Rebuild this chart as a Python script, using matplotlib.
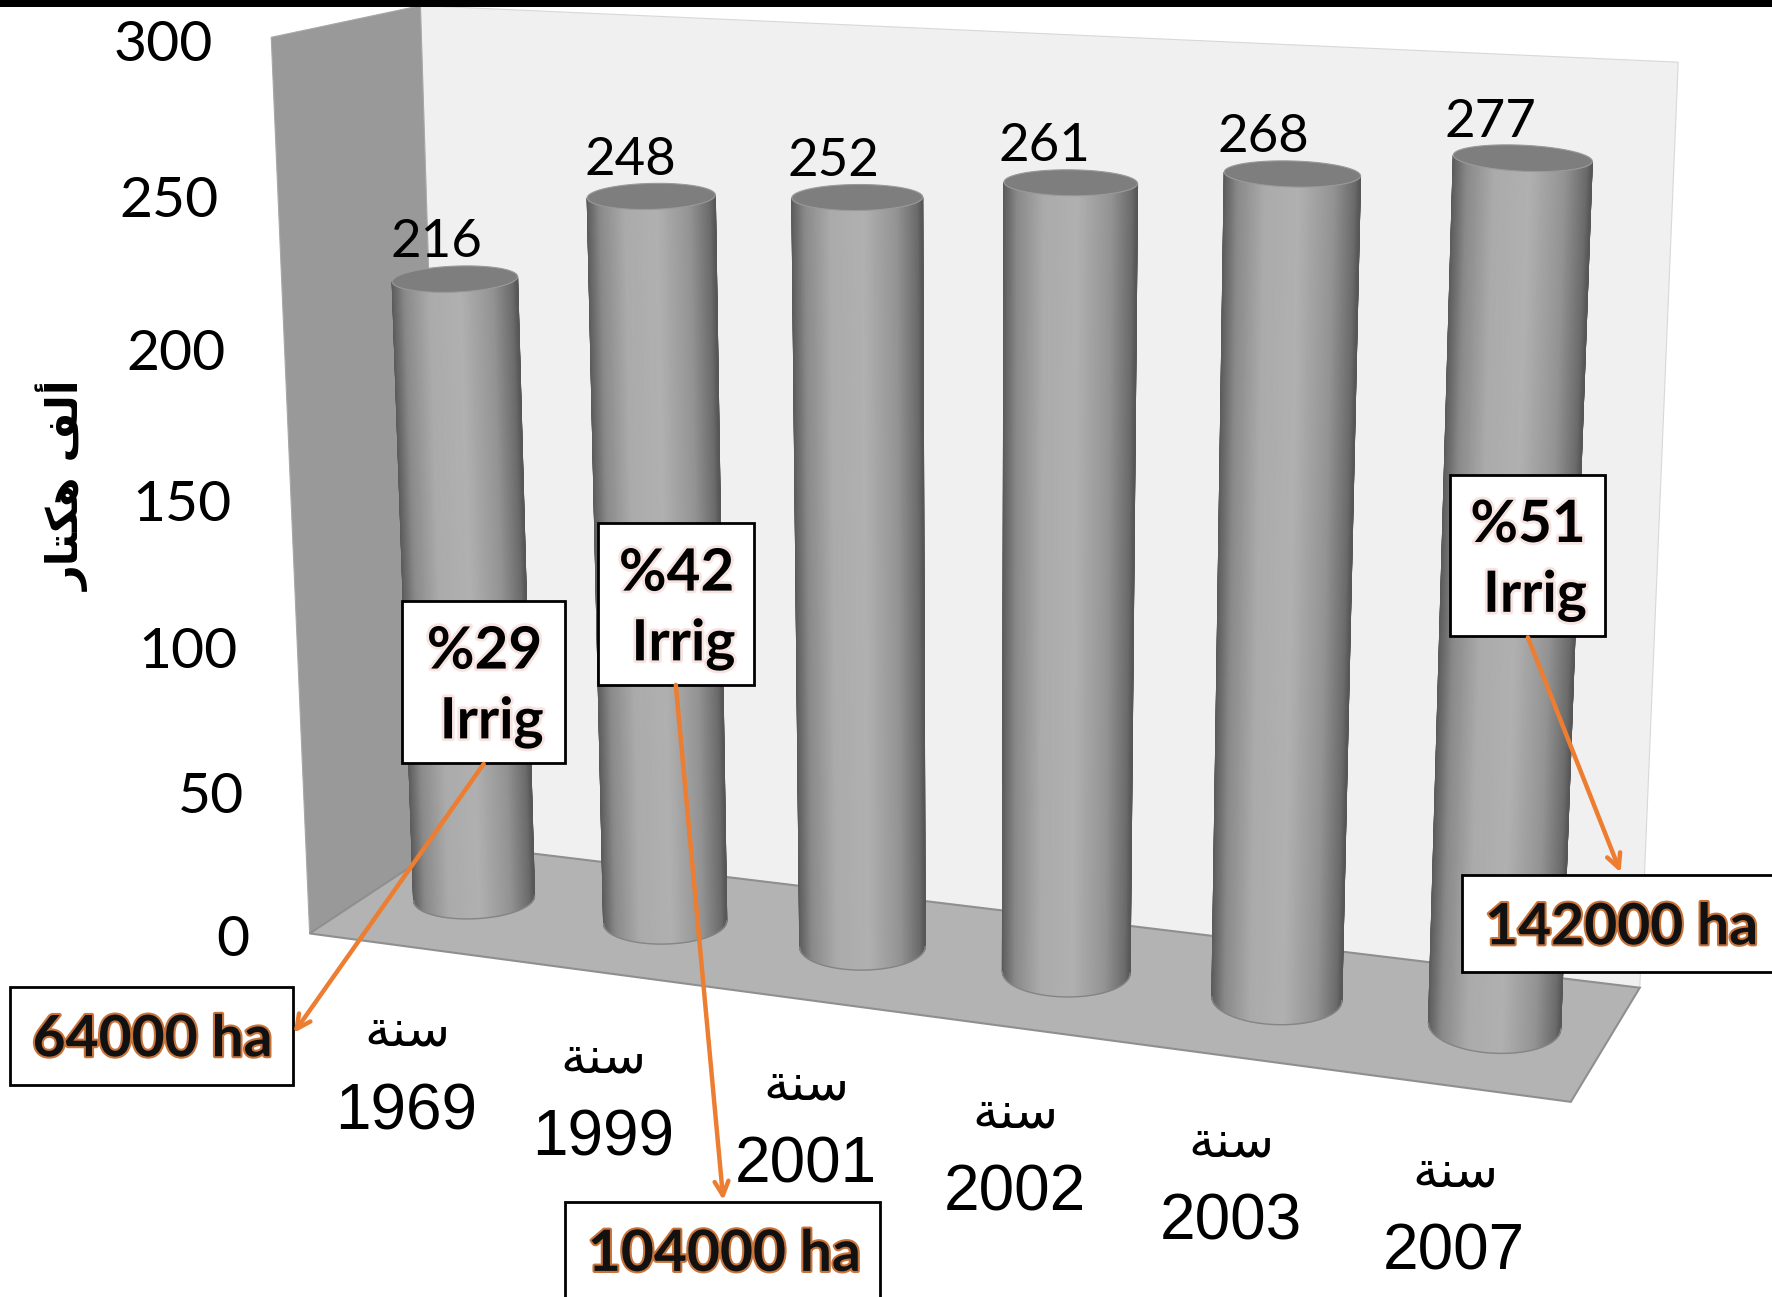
import numpy as np
import matplotlib
matplotlib.use('Agg')
import matplotlib.pyplot as plt
import matplotlib.patheffects as pe
from matplotlib.patches import Polygon, Rectangle

# the data
years = ['1969', '1999', '2001', '2002', '2003', '2007']
values = [216, 248, 252, 261, 268, 277]
y_ticks = [0, 50, 100, 150, 200, 250, 300]
year_word = '\ufe94\ufee8\ufeb3'  # sana, in visual order
y_title = '\ufead\ufe8e\ufe98\ufedc\ufeeb \ufed2\ufedf\ufe83'  # alf hectar, in visual order
irrig_pct = ['%29', '%42', '%51']
irrig_ha = ['64000 ha', '104000 ha', '142000 ha']

S = 1772 / 1568  # layout below was measured on the 1568 wide picture


def px(points):
    return [(x * S, y * S) for x, y in points]


# perspective of the plane through the cylinder axes: (column, value) -> pixels
src = [(0, 0), (5, 0), (0, 216), (5, 277)]
dst = px([(419.5, 795), (1322.5, 908), (402.5, 247), (1347.5, 140)])
A = []
b = []
for (u, v), (x, y) in zip(src, dst):
    A.append([u, v, 1, 0, 0, 0, -u * x, -v * x])
    A.append([0, 0, 0, u, v, 1, -u * y, -v * y])
    b += [x, y]
h = np.linalg.solve(np.array(A), np.array(b))


def project(u, v):
    w = h[6] * u + h[7] * v + 1
    return (h[0] * u + h[1] * v + h[2]) / w, (h[3] * u + h[4] * v + h[5]) / w


fig = plt.figure(figsize=(17.72, 12.97), dpi=100)
ax = fig.add_axes([0, 0, 1, 1])
ax.set_xlim(0, 1772)
ax.set_ylim(1297, 0)
ax.axis('off')

# walls and floor
back = px([(372, 5), (1485, 55), (1451, 874), (395, 746)])
side = px([(240, 33), (372, 5), (395, 746), (274, 826)])
floor = px([(274, 826), (395, 746), (1451, 874), (1390, 975)])
ax.add_patch(Polygon(back, fc='#f0f0f0', ec='#d8d8d8', lw=0.8, zorder=1))
ax.add_patch(Polygon(side, fc='#999999', ec='#a8a8a8', lw=0.8, zorder=2))
ax.add_patch(Polygon(floor, fc='#b3b3b3', ec='#8f8f8f', lw=1.5, zorder=3))
ax.add_patch(Rectangle((0, 0), 1772, 7, fc='black', ec='none', zorder=20))

# cylinders
rx_top = np.linspace(55.5, 61.5, 6) * S
rx_base = np.linspace(53.5, 58.5, 6) * S
ry_top = 11.5 * S
ry_base = np.linspace(18, 24, 6) * S
tilt = np.linspace(-0.04, 0.045, 6)
shade_x = [0, 0.04, 0.2, 0.45, 0.7, 0.9, 0.98, 1]
shade_g = [0.34, 0.42, 0.58, 0.69, 0.67, 0.54, 0.40, 0.36]
t = np.linspace(np.pi, 0, 80)
frac = (1 + np.cos(t[::-1])) / 2
gray = np.interp(frac, shade_x, shade_g)
for i, val in enumerate(values):
    bx, by = project(i, 0)
    tx, ty = project(i, val)
    xt = tx + rx_top[i] * np.cos(t)
    yt = ty + ry_top * np.sin(t) + tilt[i] * rx_top[i] * np.cos(t)
    xb = bx + rx_base[i] * np.cos(t)
    yb = by + ry_base[i] * np.sin(t) + tilt[i] * rx_base[i] * np.cos(t)
    ax.pcolormesh(np.array([xt, xb]), np.array([yt, yb]), np.array([gray, gray]),
                  cmap='gray', vmin=0, vmax=1, shading='gouraud', zorder=4 + i * 0.1)
    ax.plot(xb, yb, color='#858585', lw=1, zorder=4 + i * 0.1)
    a = np.linspace(0, 2 * np.pi, 120)
    lid = np.column_stack([tx + rx_top[i] * np.cos(a),
                           ty + ry_top * np.sin(a) + tilt[i] * rx_top[i] * np.cos(a)])
    ax.add_patch(Polygon(lid, fc='#7e7e7e', ec='#9a9a9a', lw=0.8, zorder=4.05 + i * 0.1))

    # value and year labels hang off the projected column
    ax.text(tx + (-16.5 - 2.4 * i) * S, ty - 32 * S, str(val), fontsize=38, family='Lato',
            ha='center', va='center', color='black', zorder=6)
    lx = bx + (-60 + 4.8 * i) * S
    ly = by + (189 + 2.3 * i) * S
    ax.text(lx, ly, years[i], fontsize=46, family='Liberation Sans', ha='center', va='center', zorder=6)
    ax.text(lx + 1 * S, ly - 71 * S, year_word, fontsize=37, family='DejaVu Sans', ha='center', va='center', zorder=6)

# value axis labels run along the front edge of the side wall
for v in y_ticks:
    yy = (829 - 2.6467 * v) / (1 - 0.00018 * v)
    xx = 221 - (829 - yy) * 33 / 792
    ax.text(xx * S, (yy + 3) * S, str(v), fontsize=41, family='Lato', ha='right', va='center', zorder=6)
ax.text(56 * S, 430 * S, y_title, fontsize=31, family='DejaVu Sans', fontweight='bold',
        rotation=90, ha='center', va='center', zorder=6)

# callouts
pct_boxes = [(356, 532, 144, 143), (529, 463, 138, 143), (1283, 420, 137, 143)]
ha_boxes = [(9, 873, 250, 87), (500, 1064, 279, 90), (1294, 774, 280, 86)]
ha_text = [(135, 920), (641, 1110), (1435, 821)]
arrow_from = [(428, 676), (598, 606), (1352, 564)]
arrow_to = [(260, 914), (640, 1062), (1434, 772)]
pink = [pe.withStroke(linewidth=4, foreground='#f7e4e0')]
orange = [pe.withStroke(linewidth=3, foreground='#c8733a')]
for k in range(3):
    x0, y0, w, hh = pct_boxes[k]
    ax.add_patch(Rectangle((x0 * S, y0 * S), w * S, hh * S, fc='white', ec='black', lw=2, zorder=8))
    ax.text((x0 + w * 0.505) * S, (y0 + 45) * S, irrig_pct[k], fontsize=42, family='Lato', fontweight='bold',
            ha='center', va='center', zorder=9, path_effects=pink)
    ax.text((x0 + w * 0.55) * S, (y0 + 107) * S, 'Irrig', fontsize=41, family='Lato', fontweight='bold',
            ha='center', va='center', zorder=9, path_effects=pink)
    x0, y0, w, hh = ha_boxes[k]
    ax.add_patch(Rectangle((x0 * S, y0 * S), w * S, hh * S, fc='white', ec='black', lw=2, zorder=8))
    ax.text(ha_text[k][0] * S, ha_text[k][1] * S, irrig_ha[k], fontsize=41, family='Lato', fontweight='bold',
            color='#111111', ha='center', va='center', zorder=9, path_effects=orange)
    ax.annotate('', xy=(arrow_to[k][0] * S, arrow_to[k][1] * S), xytext=(arrow_from[k][0] * S, arrow_from[k][1] * S),
                arrowprops=dict(arrowstyle='->,head_length=1.0,head_width=0.5', color='#ed7d31', lw=3.2,
                                shrinkA=0, shrinkB=0), zorder=10)

fig.savefig('out.png', dpi=100)
